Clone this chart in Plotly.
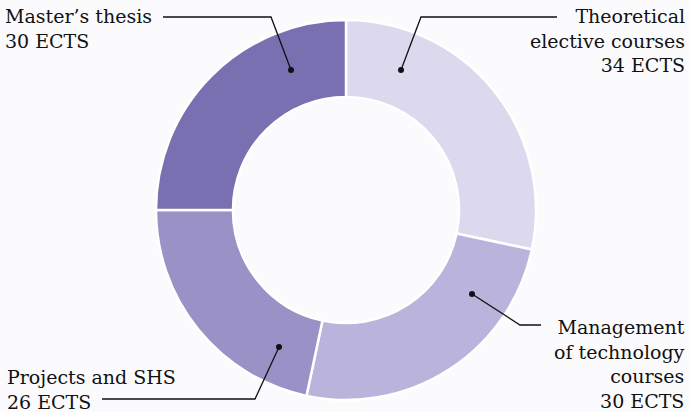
import plotly.graph_objects as go

categories = ["Theoretical elective courses", "Management of technology courses",
              "Projects and SHS", "Master’s thesis"]
ects = [34, 30, 26, 30]
colors = ["#dcd9ee", "#bab4dc", "#9a92c7", "#7970b1"]
label_texts = ["Theoretical<br>elective courses<br>34 ECTS",
               "Management<br>of technology<br>courses<br>30 ECTS",
               "Projects and SHS<br>26 ECTS",
               "Master’s thesis<br>30 ECTS"]

W, H = 689, 412
cx, cy, R = 346, 210, 190

fig = go.Figure()
fig.add_trace(go.Pie(
    labels=categories, values=ects, sort=False, direction="clockwise", rotation=0,
    hole=0.595, textinfo="none", hoverinfo="label+value",
    marker=dict(colors=colors, line=dict(color="white", width=2.5)),
    domain=dict(x=[(cx - R) / W, (cx + R) / W], y=[(H - cy - R) / H, (H - cy + R) / H]),
    showlegend=False,
))

font = dict(family="DejaVu Serif", size=19, color="#111111")
# annotations: (text, x, y, xanchor, yanchor, align)
ann = [
    (label_texts[0], 687, 3, "right", "top", "right"),
    (label_texts[1], 687, 314, "right", "top", "right"),
    (label_texts[2], 5, 364, "left", "top", "left"),
    (label_texts[3], 3, 3, "left", "top", "left"),
]
for t, x, y, xa, ya, al in ann:
    fig.add_annotation(text=t, x=x / W, y=1 - y / H, xref="paper", yref="paper",
                       xanchor=xa, yanchor=ya, align=al, showarrow=False, font=font)

# leader lines (pixel coords -> paper)
leaders = [
    [(557, 17), (421, 17), (401, 70)],
    [(541, 325), (520, 325), (472, 294)],
    [(102, 399), (255, 399), (279, 347)],
    [(163, 17), (271, 17), (291, 70)],
]
for pts in leaders:
    path = "M " + " L ".join(f"{px / W},{1 - py / H}" for px, py in pts)
    fig.add_shape(type="path", path=path, xref="paper", yref="paper",
                  line=dict(color="#111111", width=1.3))
    ex, ey = pts[-1]
    r = 3
    fig.add_shape(type="circle", xref="paper", yref="paper",
                  x0=(ex - r) / W, x1=(ex + r) / W, y0=1 - (ey + r) / H, y1=1 - (ey - r) / H,
                  fillcolor="#111111", line=dict(width=0))

fig.update_layout(width=W, height=H, margin=dict(l=0, r=0, t=0, b=0),
                  paper_bgcolor="#fbfbfd", plot_bgcolor="#fbfbfd")
fig.write_html("out.html", config={"displayModeBar": False},
               post_script="document.body.style.margin='0';document.body.style.overflow='hidden';")
